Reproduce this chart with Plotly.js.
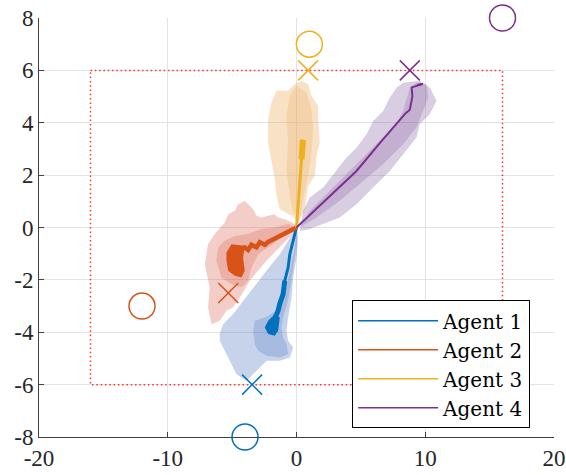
<!DOCTYPE html>
<html><head><meta charset="utf-8">
<script src="https://cdn.plot.ly/plotly-3.0.1.min.js"></script>
<style>html,body{margin:0;padding:0;background:#fff}#chart{width:566px;height:475px}</style>
</head><body><div id="chart"></div>
<script>
// ---- data ----
const agentNames = ['Agent 1', 'Agent 2', 'Agent 3', 'Agent 4'];
const lineColors = ['#0072BD', '#D95319', '#EDB120', '#7E2F8E'];
const outerFill = ['rgba(70,110,190,0.30)', 'rgba(215,90,70,0.30)', 'rgba(235,170,90,0.35)', 'rgba(130,90,160,0.30)'];
const innerFill = ['rgba(70,110,190,0.25)', 'rgba(215,90,70,0.25)', 'rgba(235,170,90,0.25)', 'rgba(130,90,160,0.25)'];

const xTicks = [-20, -10, 0, 10, 20];
const xTickText = ['-20', '-10', '0', '10', '20'];
const yTicks = [-8, -6, -4, -2, 0, 2, 4, 6, 8];
const yTickText = ['-8', '-6', '-4', '-2', '0', '2', '4', '6', '8'];

// dotted boundary
const boundX = [-16, 16, 16, -16, -16];
const boundY = [6, 6, -6, -6, 6];

// circle markers and cross markers
const circleX = [-4, -12, 1, 16];
const circleY = [-8, -3, 7, 8];
const crossX = [-3.45, -5.3, 0.9, 8.8];
const crossY = [-6, -2.5, 6, 6];

// agent 1 (blue)
const a1OuterX = [0.13, 0, -0.26, -0.39, -0.65, -0.78, -0.65, -0.26, -0.52, -1.3, -2.33, -2.85, -3.37, -3.89, -4.66, -5.05, -5.44, -5.96, -5.96, -5.7, -4.93, -4.15, -3.37, -2.33, -1.3, -0.52, 0];
const a1OuterY = [-0.38, -1.15, -1.91, -2.67, -3.44, -3.94, -4.32, -4.58, -4.96, -5.09, -5.09, -5.34, -5.6, -5.85, -5.6, -5.21, -4.83, -4.32, -4.07, -3.69, -3.31, -2.8, -2.29, -1.65, -1.02, -0.38, 0];
const a1InnerX = [0, -0.13, -0.52, -0.78, -1.17, -1.55, -2.46, -3.24, -3.37, -3.24, -2.98, -2.33, -1.3, -0.65, -0.78, -1.04, -1.17, -1.04, -0.73, -0.47, -0.26, 0];
const a1InnerY = [-0.06, -0.76, -1.65, -2.29, -2.67, -3.18, -3.44, -3.56, -3.94, -4.45, -4.71, -4.9, -4.96, -4.83, -4.45, -4.2, -3.82, -3.44, -2.92, -2.29, -1.53, -0.76];
const a1BlobX = [-1.69, -1.3, -1.43, -1.69, -2.2, -2.46, -2.2];
const a1BlobY = [-3.31, -3.44, -3.94, -4.13, -4.07, -3.82, -3.56];
const a1PathX = [0, -0.26, -0.52, -0.65, -0.91, -1.04, -1.3, -1.43, -1.7, -1.9];
const a1PathY = [0, -0.51, -1.02, -1.53, -2.03, -2.54, -2.92, -3.18, -3.5, -3.9];

// agent 2 (orange)
const a2OuterX = [0, -0.8, -1.5, -1.69, -2.2, -2.72, -3.11, -3.37, -4.02, -4.53, -4.79, -5.31, -5.57, -6.35, -6.87, -7.0, -7.12, -6.74, -6.87, -6.6, -5.96, -5.44, -4.93, -4.4, -3.63, -2.33, -1.04, 0];
const a2OuterY = [0.1, 0.3, 0.4, 0.51, 0.45, 0.38, 0.45, 0.7, 1.02, 0.89, 0.64, 0.51, 0.19, -0.25, -0.64, -1.15, -1.4, -2.29, -3.05, -3.69, -3.56, -3.18, -3.05, -2.67, -2.03, -1.27, -0.64, -0.1];
const a2InnerX = [-5.57, -4.79, -3.76, -2.72, -1.69, -0.65, 0, -1.17, -2.2, -2.98, -3.5, -3.76, -4.27, -5.05, -5.83, -6.22, -6.09];
const a2InnerY = [-0.51, -0.32, -0.25, -0.06, 0, 0.13, 0, -0.38, -0.76, -1.02, -1.53, -2.03, -2.29, -2.16, -1.91, -1.27, -0.76];
const a2BlobX = [-5.05, -4.02, -4.15, -4.02, -4.27, -4.79, -5.31, -5.44, -5.44];
const a2BlobY = [-0.64, -0.7, -1.15, -1.65, -1.91, -1.84, -1.65, -1.27, -0.95];
const a2PathX = [0, -0.65, -1.43, -1.82, -2.2, -2.46, -2.85, -3.11, -3.5, -3.76, -4.02, -4.4, -4.7];
const a2PathY = [0, -0.15, -0.33, -0.42, -0.55, -0.66, -0.56, -0.76, -0.66, -0.86, -0.76, -0.88, -1.1];

// agent 3 (yellow)
const a3OuterX = [0.39, -0.13, -0.65, -1.55, -1.94, -2.2, -2.2, -1.94, -1.69, -1.55, -1.3, -0.39, 0.13, 0.65, 0.9, 1.42, 1.55, 1.81, 1.68, 1.68, 1.17, 0.9];
const a3OuterY = [5.6, 5.47, 5.22, 5.22, 4.77, 4.14, 3.24, 2.48, 1.85, 1.21, 0.7, 0.45, 0.19, 0.7, 1.59, 1.97, 2.74, 3.24, 4.14, 4.64, 5.03, 5.47];
const a3InnerX = [0, -0.52, -0.78, -0.65, -0.78, -0.52, -0.26, 0.26, 0.52, 0.9, 1.17, 1.29, 1.17, 0.78];
const a3InnerY = [5.41, 5.03, 4.26, 3.24, 2.23, 1.21, 0.57, 0.32, 1.08, 1.97, 2.86, 3.76, 4.52, 5.15];
const a3PathX = [0, 0.15, 0.3, 0.42, 0.5];
const a3PathY = [0, 1.0, 2.0, 2.7, 3.35];
const a3ThickX = [0.4, 0.45, 0.5];
const a3ThickY = [2.6, 3.0, 3.35];

// agent 4 (purple)
const a4OuterX = [0.52, 1.03, 2.07, 3.11, 3.89, 4.66, 5.44, 5.95, 6.73, 7.25, 7.77, 8.28, 9.58, 10.36, 10.88, 10.36, 9.58, 9.32, 8.28, 7.25, 5.95, 4.66, 3.36, 2.07, 1.03, 0.26];
const a4OuterY = [0.64, 1.15, 1.53, 2.16, 2.67, 3.05, 3.56, 4.07, 4.45, 4.96, 5.34, 5.53, 5.6, 5.34, 4.84, 4.33, 3.95, 3.44, 2.8, 2.16, 1.53, 0.89, 0.38, 0.13, -0.06, -0.13];
const a4InnerX = [1.03, 3.36, 5.18, 6.73, 7.77, 8.28, 8.55, 8.8, 9.32, 10.1, 10.23, 9.84, 9.32, 8.28, 6.73, 5.18, 3.36, 1.55, 0.26];
const a4InnerY = [0.64, 1.78, 2.67, 3.44, 3.95, 4.45, 4.96, 5.34, 5.53, 5.47, 4.96, 4.45, 3.82, 3.18, 2.42, 1.78, 1.02, 0.38, 0];
const a4PathX = [0, 2.1, 4.66, 6.6, 8.41, 8.8, 9.0, 8.95, 9.4, 9.8, 9.35];
const a4PathY = [0, 0.98, 2.16, 3.3, 4.33, 4.5, 5.0, 5.35, 5.42, 5.48, 5.44];

// ---- build traces ----
const FONT = 'Liberation Serif, Times New Roman, serif';
const LEGEND_FONT = 'DejaVu Serif, serif';
function poly(x, y, color) {
  return {type: 'scatter', mode: 'lines', x: x, y: y, fill: 'toself', fillcolor: color,
          line: {width: 0, color: color}, hoverinfo: 'skip', showlegend: false};
}
function path(x, y, color, w) {
  return {type: 'scatter', mode: 'lines', x: x, y: y, line: {color: color, width: w, shape: 'linear'},
          hoverinfo: 'skip', showlegend: false};
}

const outers = [[a1OuterX, a1OuterY], [a2OuterX, a2OuterY], [a3OuterX, a3OuterY], [a4OuterX, a4OuterY]];
const inners = [[a1InnerX, a1InnerY], [a2InnerX, a2InnerY], [a3InnerX, a3InnerY], [a4InnerX, a4InnerY]];

const traces = [];
// dotted boundary
traces.push({type: 'scatter', mode: 'lines', x: boundX, y: boundY,
  line: {color: 'rgb(255,50,50)', width: 1.5, dash: '1.5px,2.8px'}, hoverinfo: 'skip', showlegend: false});

for (let i = 0; i < 4; i++) traces.push(poly(outers[i][0], outers[i][1], outerFill[i]));
for (let i = 0; i < 4; i++) traces.push(poly(inners[i][0], inners[i][1], innerFill[i]));

// mean paths
traces.push(path(a1PathX, a1PathY, lineColors[0], 3));
traces.push(path(a1PathX.slice(4), a1PathY.slice(4), lineColors[0], 5));
traces.push(poly(a1BlobX, a1BlobY, lineColors[0]));
traces.push(path(a2PathX, a2PathY, lineColors[1], 4.5));
traces.push(poly(a2BlobX, a2BlobY, lineColors[1]));
traces.push(path(a3PathX, a3PathY, lineColors[2], 3));
traces.push(path(a3ThickX, a3ThickY, lineColors[2], 6));
traces.push(path(a4PathX, a4PathY, lineColors[3], 2));

// circles and crosses
traces.push({type: 'scatter', mode: 'markers', x: circleX, y: circleY, cliponaxis: false,
  marker: {symbol: 'circle-open', size: 26, color: lineColors, line: {width: 1.5, color: lineColors}},
  hoverinfo: 'skip', showlegend: false});
traces.push({type: 'scatter', mode: 'markers', x: crossX, y: crossY, cliponaxis: false,
  marker: {symbol: 'x-thin-open', size: 20, color: lineColors, line: {width: 1.5, color: lineColors}},
  hoverinfo: 'skip', showlegend: false});

// legend entries
for (let i = 0; i < 4; i++) {
  traces.push({type: 'scatter', mode: 'lines', x: [null], y: [null], name: agentNames[i],
    line: {color: lineColors[i], width: 1.5}, showlegend: true});
}

const axisCommon = {
  ticks: 'inside', ticklen: 5, tickwidth: 1, tickcolor: '#404040',
  showline: true, linecolor: '#404040', linewidth: 1, mirror: false,
  showgrid: true, gridcolor: '#e3e3e3', gridwidth: 1, zeroline: false,
  tickfont: {family: FONT, size: 23, color: '#262626'}, fixedrange: true
};

const layout = {
  width: 566, height: 475,
  margin: {l: 39, r: 12, t: 18, b: 38, pad: 0},
  paper_bgcolor: '#ffffff', plot_bgcolor: '#ffffff',
  showlegend: true,
  xaxis: Object.assign({}, axisCommon, {range: [-20, 20], tickmode: 'array', tickvals: xTicks, ticktext: xTickText}),
  yaxis: Object.assign({}, axisCommon, {range: [-8, 8], tickmode: 'array', tickvals: yTicks, ticktext: yTickText}),
  legend: {x: 0.608, y: 0.3265, xanchor: 'left', yanchor: 'top', bgcolor: '#ffffff',
    bordercolor: '#000000', borderwidth: 1, font: {family: LEGEND_FONT, size: 20, color: '#000000'},
    itemwidth: 80, tracegroupgap: 0}
};

Plotly.newPlot('chart', traces, layout, {displayModeBar: false, staticPlot: true});
</script></body></html>
